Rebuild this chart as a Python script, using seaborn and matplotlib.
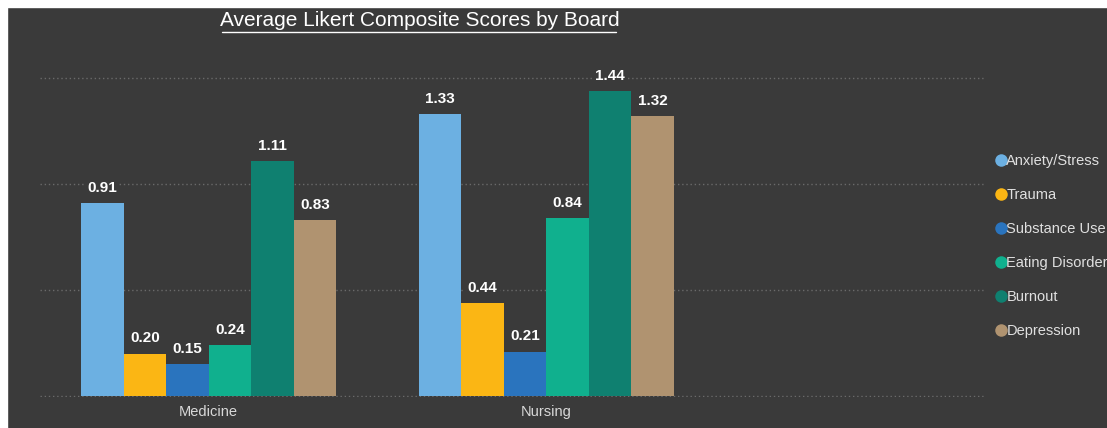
import numpy as np
import pandas as pd
import matplotlib
matplotlib.use("Agg")
import matplotlib.pyplot as plt
import seaborn as sns
from matplotlib.lines import Line2D
from matplotlib.patches import Rectangle

boards = ["Medicine", "Nursing"]
measures = ["Anxiety/Stress", "Trauma", "Substance Use", "Eating Disorder", "Burnout", "Depression"]
medicine = [0.91, 0.20, 0.15, 0.24, 1.11, 0.83]
nursing = [1.33, 0.44, 0.21, 0.84, 1.44, 1.32]
colors = ["#6cb0e2", "#fbb614", "#2a74be", "#10b08e", "#0f8070", "#b09370"]

df = pd.DataFrame({
    "board": [boards[0]] * len(measures) + [boards[1]] * len(measures),
    "measure": measures + measures,
    "score": medicine + nursing,
})

bg = "#3a3a3a"
sns.set_theme(style="dark")
plt.rcParams["font.family"] = ["Liberation Sans", "DejaVu Sans"]

fig = plt.figure(figsize=(11.07, 4.28), dpi=100)
fig.patch.set_facecolor(bg)
ax = fig.add_axes([40 / 1107, 31 / 428, 945 / 1107, 337 / 428])
ax.set_facecolor(bg)

sns.barplot(data=df, x="board", y="score", hue="measure", hue_order=measures,
            palette=colors, width=0.757, gap=0, saturation=1, linewidth=0,
            ax=ax, legend=False)

for c in ax.containers:
    for bar in c:
        h = bar.get_height()
        ax.annotate(f"{h:.2f}", (bar.get_x() + bar.get_width() / 2, h),
                    xytext=(0, 6), textcoords="offset points", ha="center", va="bottom",
                    color="white", fontsize=11, fontweight="bold",
                    bbox=dict(boxstyle="square,pad=0.15", fc=bg, ec="none"))

ax.set_xlim(-0.5, 2.3)
ax.set_ylim(-0.004, 1.586)
ax.set_yticks([0, 0.5, 1.0, 1.5])
ax.set_yticklabels([])
ax.yaxis.grid(True, color="#6a6a6a", linestyle=(0, (1, 2)), linewidth=1)
ax.set_axisbelow(True)
ax.tick_params(axis="x", colors="#d8d8d8", labelsize=10.5, length=0, pad=6)
ax.tick_params(axis="y", length=0)
ax.set_xlabel("")
ax.set_ylabel("")
for s in ax.spines.values():
    s.set_visible(False)

fig.text(420 / 1107, 1 - 21 / 428, "Average Likert Composite Scores by Board", ha="center", va="center",
         color="white", fontsize=15)
fig.add_artist(Line2D([222 / 1107, 616 / 1107], [1 - 32 / 428, 1 - 32 / 428], color="white", lw=1))

handles = [Line2D([0], [0], marker="o", linestyle="", markersize=9, markerfacecolor=c,
                  markeredgecolor="none") for c in colors]
leg = fig.legend(handles, measures, loc="upper left", bbox_to_anchor=(986 / 1107, 1 - 148 / 428),
                 frameon=False, fontsize=10.5, labelcolor="#e0e0e0", handletextpad=-0.2,
                 handlelength=1.2, labelspacing=1.38, borderaxespad=0)

# white margins of the slide
fig.add_artist(Rectangle((0, 1 - 7 / 428), 1, 7 / 428, transform=fig.transFigure, color="white"))
fig.add_artist(Rectangle((0, 0), 7 / 1107, 1, transform=fig.transFigure, color="white"))

fig.savefig("out.png", dpi=100, facecolor=bg)
